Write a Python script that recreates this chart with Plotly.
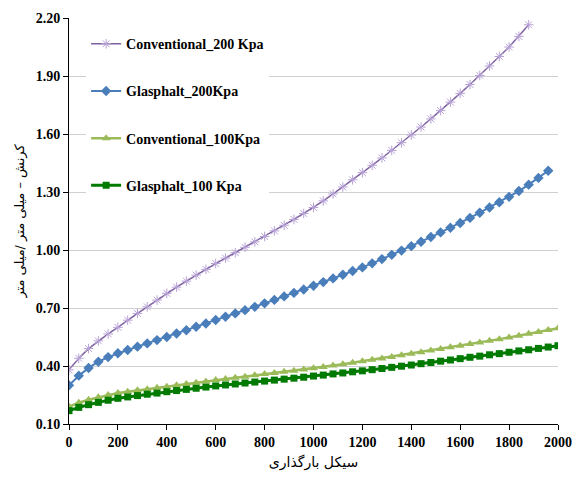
import plotly.graph_objects as go

# Loading cycles (x) and strain values (mm/mm)
conv200_x = list(range(0, 1881, 40))
conv200_y = [0.380, 0.440, 0.490, 0.530, 0.566, 0.600, 0.637, 0.672, 0.706, 0.741,
             0.776, 0.808, 0.839, 0.870, 0.900, 0.930, 0.958, 0.986, 1.014, 1.042,
             1.070, 1.099, 1.128, 1.158, 1.189, 1.220, 1.254, 1.290, 1.326, 1.363,
             1.400, 1.438, 1.476, 1.515, 1.555, 1.595, 1.636, 1.678, 1.721, 1.765,
             1.810, 1.856, 1.903, 1.952, 2.001, 2.050, 2.105, 2.165]

glas200_x = list(range(0, 1961, 40))
glas200_y = [0.300, 0.350, 0.390, 0.422, 0.446, 0.466, 0.483, 0.500, 0.517, 0.534,
             0.550, 0.568, 0.585, 0.603, 0.620, 0.638, 0.655, 0.672, 0.689, 0.706,
             0.724, 0.742, 0.760, 0.778, 0.796, 0.815, 0.834, 0.853, 0.872, 0.891,
             0.910, 0.931, 0.953, 0.975, 0.997, 1.020, 1.043, 1.067, 1.091, 1.115,
             1.140, 1.166, 1.193, 1.220, 1.247, 1.275, 1.305, 1.338, 1.373, 1.410]

conv100_x = list(range(0, 2001, 40))
conv100_y = [0.190, 0.210, 0.225, 0.238, 0.250, 0.260, 0.267, 0.274, 0.280, 0.287,
             0.293, 0.300, 0.307, 0.314, 0.320, 0.327, 0.333, 0.339, 0.345, 0.352,
             0.358, 0.364, 0.370, 0.376, 0.382, 0.388, 0.395, 0.402, 0.409, 0.417,
             0.424, 0.432, 0.439, 0.447, 0.455, 0.463, 0.471, 0.480, 0.488, 0.497,
             0.505, 0.514, 0.522, 0.531, 0.539, 0.548, 0.557, 0.567, 0.576, 0.586,
             0.595]

glas100_x = list(range(0, 2001, 40))
glas100_y = [0.169, 0.186, 0.200, 0.212, 0.223, 0.233, 0.240, 0.247, 0.254, 0.260,
             0.267, 0.273, 0.279, 0.285, 0.291, 0.297, 0.302, 0.307, 0.312, 0.317,
             0.322, 0.327, 0.332, 0.337, 0.342, 0.348, 0.353, 0.359, 0.364, 0.370,
             0.375, 0.381, 0.387, 0.393, 0.399, 0.405, 0.412, 0.418, 0.425, 0.431,
             0.438, 0.445, 0.451, 0.458, 0.464, 0.471, 0.478, 0.484, 0.491, 0.498,
             0.505]

series_names = ["Conventional_200 Kpa", "Glasphalt_200Kpa", "Conventional_100Kpa", "Glasphalt_100 Kpa"]
x_ticks = list(range(0, 2001, 200))
y_ticks = [0.10, 0.40, 0.70, 1.00, 1.30, 1.60, 1.90, 2.20]
x_title = "سیکل بارگذاری"
y_title = "کرنش – میلی متر /میلی متر"

fig = go.Figure()
fig.add_trace(go.Scatter(
    x=conv200_x, y=conv200_y, name=series_names[0], mode="lines+markers", legendgroup="a",
    line=dict(color="#7D60A0", width=1.5),
    marker=dict(symbol="asterisk-open", size=8, color="#B7A2D6", line=dict(color="#B7A2D6", width=1))))
fig.add_trace(go.Scatter(
    x=glas200_x, y=glas200_y, name=series_names[1], mode="lines+markers", legendgroup="b",
    line=dict(color="#4A7EBB", width=2),
    marker=dict(symbol="diamond", size=8, color="#4A7EBB")))
fig.add_trace(go.Scatter(
    x=conv100_x, y=conv100_y, name=series_names[2], mode="lines+markers", legendgroup="c",
    line=dict(color="#9BBB59", width=2.5),
    marker=dict(symbol="triangle-up", size=8, color="#9BBB59")))
fig.add_trace(go.Scatter(
    x=glas100_x, y=glas100_y, name=series_names[3], mode="lines+markers", legendgroup="d",
    line=dict(color="#007A00", width=3),
    marker=dict(symbol="square", size=7, color="#007A00")))

tick_font = dict(family="Liberation Serif", size=14, color="black", weight="bold")

fig.update_layout(
    width=572, height=479,
    margin=dict(l=69, r=14, t=18, b=55),
    paper_bgcolor="white", plot_bgcolor="white",
    showlegend=True,
    legend=dict(x=0.035, y=0.975, xanchor="left", yanchor="top",
                bgcolor="white", tracegroupgap=26, itemwidth=30,
                font=dict(family="Liberation Serif", size=14, color="black", weight="bold")),
    xaxis=dict(range=[0, 2000], tickvals=x_ticks, showgrid=False, automargin=False,
               showline=True, linecolor="black", linewidth=1,
               ticks="outside", ticklen=5, tickcolor="black",
               tickfont=tick_font, zeroline=False,
               title=dict(text=x_title, font=dict(family="DejaVu Sans", size=14, color="black"), standoff=8)),
    yaxis=dict(range=[0.10, 2.20], tickvals=y_ticks, tickformat=".2f", automargin=False,
               showgrid=True, gridcolor="#D0D0D0", gridwidth=1,
               showline=True, linecolor="black", linewidth=1,
               ticks="outside", ticklen=5, tickcolor="black",
               tickfont=tick_font, zeroline=False,
               title=dict(text=y_title, font=dict(family="DejaVu Sans", size=13, color="black"), standoff=8)),
)

fig.write_html("out.html")
